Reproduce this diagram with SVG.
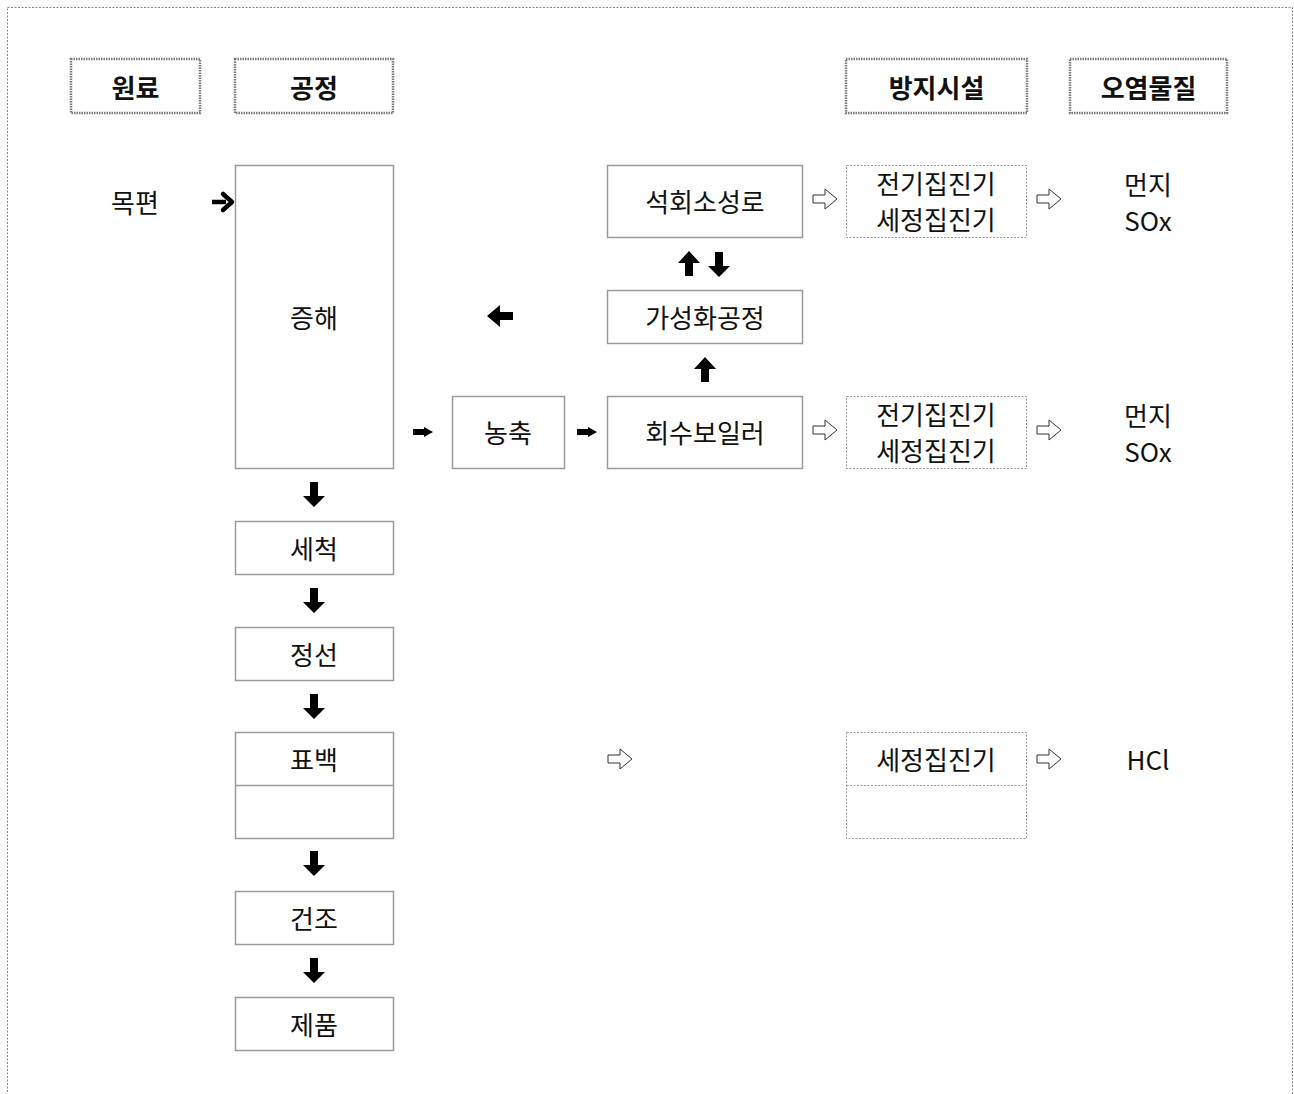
<svg xmlns="http://www.w3.org/2000/svg" width="1294" height="1094" viewBox="0 0 1294 1094">
<defs>
<style>
.t{font-family:"Noto Sans CJK KR","Noto Sans",sans-serif;font-size:26px;fill:#111;text-anchor:middle;dominant-baseline:central}
.h{font-weight:bold;font-size:26px}
.box{fill:#fff;stroke:#9a9a9a;stroke-width:1.5}
.dot{fill:#fff;stroke:#9a9a9a;stroke-width:1;stroke-dasharray:2 1.5}
.hdr{fill:#fff;stroke:#7a7a7a;stroke-width:2.5;stroke-dasharray:1.5 1}
.blk{fill:#000}
.wht{fill:#fff;stroke:#333;stroke-width:1}
</style>
<path id="dn" class="blk" d="M-4,-12 H4 V2 H11 L0,13 L-11,2 H-4 Z"/>
<path id="up" class="blk" d="M-4,12 H4 V-1 H11 L0,-13 L-11,-1 H-4 Z"/>
<path id="lt" class="blk" d="M13,-4 V4 H0 V11 L-13,0 L0,-11 V-4 Z"/>
<path id="rt" class="blk" d="M-10,-3 H1 V-5 L10,0 L1,5 V3 H-10 Z"/>
<path id="wr" class="wht" d="M-12,-4 H0 V-10 L12,0 L0,10 V4 H-12 Z"/>
</defs>
<rect x="7.5" y="7.5" width="1285" height="1100" fill="#fff" stroke="#888" stroke-width="1" stroke-dasharray="2 1.5"/>

<g id="headers">
<g id="h-raw"><rect class="hdr" x="71" y="59" width="129" height="54"/><text class="t h" x="135.5" y="86">원료</text></g>
<g id="h-proc"><rect class="hdr" x="235" y="59" width="158" height="54"/><text class="t h" x="314" y="86">공정</text></g>
<g id="h-ctrl"><rect class="hdr" x="846" y="59" width="181" height="54"/><text class="t h" x="936.5" y="86">방지시설</text></g>
<g id="h-pol"><rect class="hdr" x="1070" y="59" width="157" height="54"/><text class="t h" x="1148.5" y="86">오염물질</text></g>
</g>

<g id="connectors">
<path d="M212,202 H226" stroke="#000" stroke-width="4.5" fill="none"/>
<path d="M223,194 L232,202 L223,210" stroke="#000" stroke-width="4.5" fill="none" stroke-linejoin="round" stroke-linecap="round"/>
<use href="#rt" x="423" y="432"/>
<use href="#rt" x="587" y="432"/>
<use href="#lt" x="500" y="316"/>
<use href="#up" x="689" y="264"/>
<use href="#dn" x="719" y="264"/>
<use href="#up" x="705" y="370"/>
<use href="#dn" x="314" y="494"/>
<use href="#dn" x="314" y="600"/>
<use href="#dn" x="314" y="706"/>
<use href="#dn" x="314" y="863"/>
<use href="#dn" x="314" y="970"/>
<use href="#wr" x="825" y="199"/>
<use href="#wr" x="1049" y="199"/>
<use href="#wr" x="825" y="430"/>
<use href="#wr" x="1049" y="430"/>
<use href="#wr" x="620" y="759"/>
<use href="#wr" x="1049" y="759"/>
</g>

<g id="n-mokpyeon"><text class="t" x="135" y="201">목편</text></g>
<g id="n-jeunghae"><rect class="box" x="235.5" y="165.5" width="158" height="303"/><text class="t" x="314" y="316">증해</text></g>
<g id="n-sechuk"><rect class="box" x="235.5" y="521.5" width="158" height="53"/><text class="t" x="314" y="547">세척</text></g>
<g id="n-jeongseon"><rect class="box" x="235.5" y="627.5" width="158" height="53"/><text class="t" x="314" y="653">정선</text></g>
<g id="n-pyobaek"><rect class="box" x="235.5" y="732.5" width="158" height="106"/><line x1="235.5" y1="785.5" x2="393.5" y2="785.5" stroke="#9a9a9a" stroke-width="1.5"/><text class="t" x="314" y="758">표백</text></g>
<g id="n-geonjo"><rect class="box" x="235.5" y="891.5" width="158" height="53"/><text class="t" x="314" y="917">건조</text></g>
<g id="n-jepum"><rect class="box" x="235.5" y="997.5" width="158" height="53"/><text class="t" x="314" y="1023">제품</text></g>
<g id="n-nongchuk"><rect class="box" x="452.5" y="396.5" width="112" height="72"/><text class="t" x="508" y="431">농축</text></g>
<g id="n-kiln"><rect class="box" x="607.5" y="165.5" width="195" height="72"/><text class="t" x="705" y="200">석회소성로</text></g>
<g id="n-causticizing"><rect class="box" x="607.5" y="290.5" width="195" height="53"/><text class="t" x="705" y="316">가성화공정</text></g>
<g id="n-boiler"><rect class="box" x="607.5" y="396.5" width="195" height="72"/><text class="t" x="705" y="431">회수보일러</text></g>
<g id="c-1"><rect class="dot" x="846.5" y="165.5" width="180" height="72"/><text class="t" x="936" y="182">전기집진기</text><text class="t" x="936" y="218">세정집진기</text></g>
<g id="c-2"><rect class="dot" x="846.5" y="396.5" width="180" height="72"/><text class="t" x="936" y="413">전기집진기</text><text class="t" x="936" y="449">세정집진기</text></g>
<g id="c-3"><rect class="dot" x="846.5" y="732.5" width="180" height="106"/><line x1="846.5" y1="785.5" x2="1026.5" y2="785.5" stroke="#9a9a9a" stroke-width="1" stroke-dasharray="2 1.5"/><text class="t" x="936" y="758">세정집진기</text></g>
<g id="p-1"><text class="t" x="1148" y="183">먼지</text><text class="t" x="1148" y="219">SOx</text></g>
<g id="p-2"><text class="t" x="1148" y="414">먼지</text><text class="t" x="1148" y="450">SOx</text></g>
<g id="p-3"><text class="t" x="1148" y="758">HCl</text></g>
</svg>
